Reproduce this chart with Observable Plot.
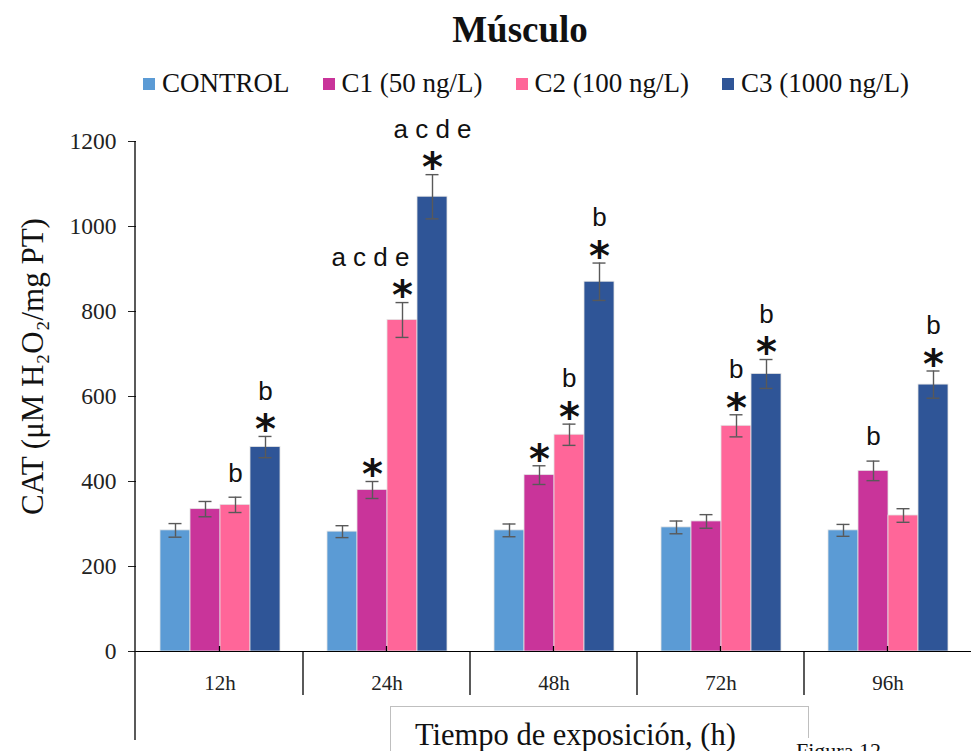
<!DOCTYPE html>
<html>
<head>
<meta charset="utf-8">
<script src="https://cdn.jsdelivr.net/npm/d3@7"></script>
<script src="https://cdn.jsdelivr.net/npm/@observablehq/plot@0.6"></script>
<style>
  html, body { margin: 0; padding: 0; background: #fff; }
  body { width: 972px; height: 751px; overflow: hidden; position: relative;
         font-family: "Liberation Serif", "Times New Roman", serif; color: #111; }
  #title { height: 58px; line-height: 60px; font-size: 37px; font-weight: bold;
           text-align: center; padding-left: 68px; box-sizing: border-box; }
  #legend { height: 47px; display: flex; align-items: center; gap: 33px;
            padding-left: 143px; box-sizing: border-box; font-size: 27px; padding-top: 4px; }
  #legend .item { display: flex; align-items: center; gap: 7px; white-space: nowrap; }
  #legend .sw { width: 12px; height: 12px; display: inline-block; }
  #chart svg { display: block; }
  #xlabel { position: absolute; left: 390px; top: 706px; width: 419px; height: 60px;
            border: 1px solid #bfbfbf; border-bottom: none; box-sizing: border-box;
            font-size: 30.5px; padding-left: 24px; line-height: 56px; background: #fff; }
  #fig { position: absolute; left: 792px; top: 738px; font-size: 22px; background: #fff;
         padding: 0 4px; line-height: 26px; }
</style>
</head>
<body>
<div id="title">Músculo</div>
<div id="legend"></div>
<div id="chart"></div>
<div id="xlabel">Tiempo de exposición, (h)</div>
<div id="fig">Figura 12</div>
<script>
// ---- data ----
const times = ["12h", "24h", "48h", "72h", "96h"];
const series = ["CONTROL", "C1 (50 ng/L)", "C2 (100 ng/L)", "C3 (1000 ng/L)"];
const colors = ["#5B9BD5", "#C9349A", "#FF6699", "#2F5597"];
const yTicks = [0, 200, 400, 600, 800, 1000, 1200];
const yLabel = "CAT (μM H₂O₂/mg PT)";

const controlMean = [285, 282, 285, 292, 285];
const c1Mean      = [335, 380, 415, 306, 425];
const c2Mean      = [345, 780, 510, 531, 320];
const c3Mean      = [481, 1070, 870, 653, 628];

const controlErr = [16, 14, 15, 15, 14];
const c1Err      = [18, 20, 22, 16, 23];
const c2Err      = [18, 41, 25, 26, 16];
const c3Err      = [25, 52, 44, 34, 32];

const controlStar = [false, false, false, false, false];
const c1Star      = [false, true, true, false, false];
const c2Star      = [false, true, true, true, false];
const c3Star      = [true, true, true, true, true];

const controlLetters = ["", "", "", "", ""];
const c1Letters      = ["", "", "", "", "b"];
const c2Letters      = ["b", "a c d e", "b", "b", ""];
const c3Letters      = ["b", "a c d e", "b", "b", "b"];

// ---- table ----
const means = [controlMean, c1Mean, c2Mean, c3Mean];
const errs = [controlErr, c1Err, c2Err, c3Err];
const stars = [controlStar, c1Star, c2Star, c3Star];
const letters = [controlLetters, c1Letters, c2Letters, c3Letters];
const data = [];
series.forEach((s, si) => times.forEach((t, ti) => data.push({
  time: t, series: s, value: means[si][ti], err: errs[si][ti],
  star: stars[si][ti], letters: letters[si][ti]
})));
const hi = d => d.value + d.err;
const lo = d => d.value - d.err;

// ---- legend ----
const legend = document.getElementById("legend");
series.forEach((s, i) => {
  const it = document.createElement("div");
  it.className = "item";
  const sw = document.createElement("span");
  sw.className = "sw"; sw.style.background = colors[i];
  const tx = document.createElement("span");
  tx.textContent = s;
  it.append(sw, tx);
  legend.append(it);
});

const sansFont = "'Liberation Sans', Arial, sans-serif";
const C2 = series[2];

const plot = Plot.plot({
  width: 972,
  height: 646,
  marginTop: 36,
  marginBottom: 100,
  marginLeft: 135,
  marginRight: 0,
  style: { fontFamily: "'Liberation Serif', 'Times New Roman', serif", fontSize: "21px", color: "#222", background: "#fff", overflow: "visible" },
  fx: { domain: times, padding: 0, label: null, axis: "bottom", tickSize: 0, tickPadding: 24 },
  x: { domain: series, paddingInner: 0, paddingOuter: 0.75, axis: null },
  y: { domain: [0, 1200], ticks: yTicks, tickSize: 8, tickPadding: 12, label: null, tickFormat: d => String(d) },
  color: { domain: series, range: colors },
  marks: [
    Plot.barY(data, { fx: "time", x: "series", y: "value", fill: "series", stroke: "#e4e4e4", strokeWidth: 0.8 }),
    Plot.ruleX(data, { fx: "time", x: "series", y1: lo, y2: hi, stroke: "#595959", strokeWidth: 1.4 }),
    Plot.tickY(data, { fx: "time", x: "series", y: lo, stroke: "#595959", strokeWidth: 1.4, insetLeft: 8.5, insetRight: 8.5 }),
    Plot.tickY(data, { fx: "time", x: "series", y: hi, stroke: "#595959", strokeWidth: 1.4, insetLeft: 8.5, insetRight: 8.5 }),
    Plot.ruleY([0], { stroke: "#000", strokeWidth: 1.2 }),
    Plot.text(data.filter(d => d.star), { fx: "time", x: "series", y: hi, text: () => "*",
      fontFamily: "'DejaVu Sans', sans-serif", fontWeight: "bold", fontSize: 40, fill: "#111", dy: -6 }),
    Plot.text(data.filter(d => d.letters && d.star && d.series !== C2), { fx: "time", x: "series", y: hi, text: "letters",
      fontFamily: sansFont, fontSize: 26, fill: "#111", dy: -45 }),
    Plot.text(data.filter(d => d.letters && d.star && d.series === C2), { fx: "time", x: "series", y: hi, text: "letters",
      fontFamily: sansFont, fontSize: 26, fill: "#111", dy: -45, dx: 7, textAnchor: "end" }),
    Plot.text(data.filter(d => d.letters && !d.star), { fx: "time", x: "series", y: hi, text: "letters",
      fontFamily: sansFont, fontSize: 26, fill: "#111", dy: -24 }),
    Plot.text([yLabel], { fx: () => times[0], frameAnchor: "left", rotate: -90, textAnchor: "middle",
      dx: -103, dy: -30, fontSize: 31, fill: "#111" })
  ]
});
document.getElementById("chart").append(plot);

// ---- axis lines & category boundary ticks (from the library's scales) ----
const svg = d3.select(plot.tagName.toLowerCase() === "svg" ? plot : plot.querySelector("svg"));
svg.selectAll('[aria-label="y-axis tick label"]').attr("font-size", 23.5);
const fxs = plot.scale("fx");
const ys = plot.scale("y");
const y0 = ys.apply(0);
const yTop = ys.apply(1200);
const [r0, r1] = fxs.range;
const step = (r1 - r0) / times.length;
const bandStart = t => (fxs.apply ? fxs.apply(t) : r0 + times.indexOf(t) * step);
const bw = fxs.bandwidth || step;
const g = svg.append("g").attr("stroke", "#000").attr("stroke-width", 1.3);
g.append("line").attr("x1", r0).attr("x2", r0).attr("y1", yTop).attr("y2", 635);
times.forEach((t, i) => {
  const xs = bandStart(t);
  if (i > 0) g.append("line").attr("x1", xs).attr("x2", xs).attr("y1", y0).attr("y2", y0 + 44);
  g.append("line").attr("x1", xs + bw / 2).attr("x2", xs + bw / 2).attr("y1", y0).attr("y2", y0 - 5);
});
</script>
</body>
</html>
